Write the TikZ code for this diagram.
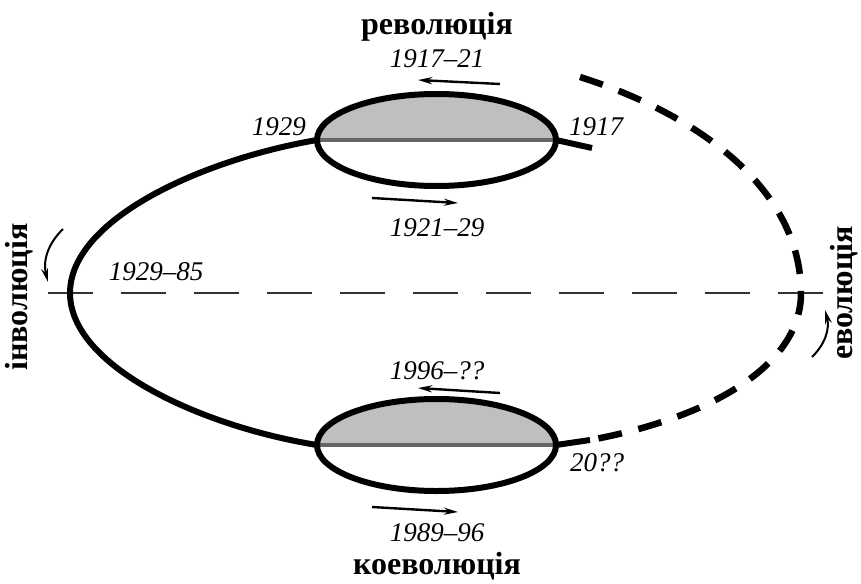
\documentclass[tikz,border=0pt]{standalone}
\usepackage{fontspec}
\setmainfont{Liberation Serif}
\usetikzlibrary{arrows.meta}

\begin{document}
\begin{tikzpicture}[x=1pt, y=-1pt,
    phase/.style={line width=6pt},
    flow/.style={line width=2.4pt, -{Stealth[length=14pt, width=7pt]}},
    year/.style={font=\fontsize{27}{27}\selectfont\itshape, inner sep=0pt},
    stage/.style={font=\fontsize{32}{32}\selectfont\bfseries, inner sep=0pt}]
  \useasboundingbox (0,0) rectangle (861,583);

  % Key points of the cycle
  \coordinate (revL) at (317,140);
  \coordinate (revR) at (556,140);
  \coordinate (revT) at (592,148);
  \coordinate (coeL) at (317,445);
  \coordinate (coeR) at (556,445);
  \coordinate (coeT) at (590,440);
  \coordinate (invo) at (70,293);
  \coordinate (evo) at (801,293);

  % Dashed axis
  \draw[line width=2.2pt, black!80, dash pattern=on 45pt off 28pt] (48,293) -- (830,293);

  % Revolution and coevolution lenses
  \foreach \h in {140,445} {
    \begin{scope}
      \clip (300,\h-60) rectangle (580,\h);
      \fill[black!25] (436.5,\h) ellipse (119.5 and 46);
    \end{scope}
    \draw[line width=3.5pt, black!60] (317,\h) -- (556,\h);
    \draw[phase] (436.5,\h) ellipse (119.5 and 46);
  }

  % Involution branch
  \draw[phase] (revL) .. controls (200,160) and (70,220) .. (invo)
    .. controls (70,366) and (200,426) .. (coeL);
  \draw[phase] (revR) -- (revT);
  \draw[phase] (coeR) -- (coeT);

  % Evolution branch (expected)
  \draw[line width=6.5pt, dash pattern=on 24pt off 17pt]
    (580,77) .. controls (700,115) and (801,190) .. (evo)
    .. controls (801,370) and (700,420) .. (coeT);

  % Direction arrows
  \draw[flow] (500,84) -- (418,80);
  \draw[flow] (372,198) -- (458,203);
  \draw[flow] (500,393) -- (418,388);
  \draw[flow] (372,507) -- (458,512);
  \draw[flow, line width=2pt] (63,229) to[bend right=30] (48,282);
  \draw[flow, line width=2pt] (812,357) to[bend right=30] (825,310);

  % Labels
  \node[stage] (rev) at (437,27) {революція};
  \node[stage] (coe) at (437,566) {коеволюція};
  \node[stage, rotate=90] (inv) at (19,297) {інволюція};
  \node[stage, rotate=90] (evl) at (844,293) {еволюція};
  \node[year] (y1) at (437,59) {1917--21};
  \node[year] (y2) at (437,228) {1921--29};
  \node[year, anchor=east] (y3) at (306,127) {1929};
  \node[year, anchor=west] (y4) at (569,127) {1917};
  \node[year] (y5) at (156,272) {1929--85};
  \node[year] (y6) at (437,371) {1996--??};
  \node[year, anchor=west] (y7) at (570,463) {20??};
  \node[year] (y8) at (437,533) {1989--96};
\end{tikzpicture}
\end{document}
